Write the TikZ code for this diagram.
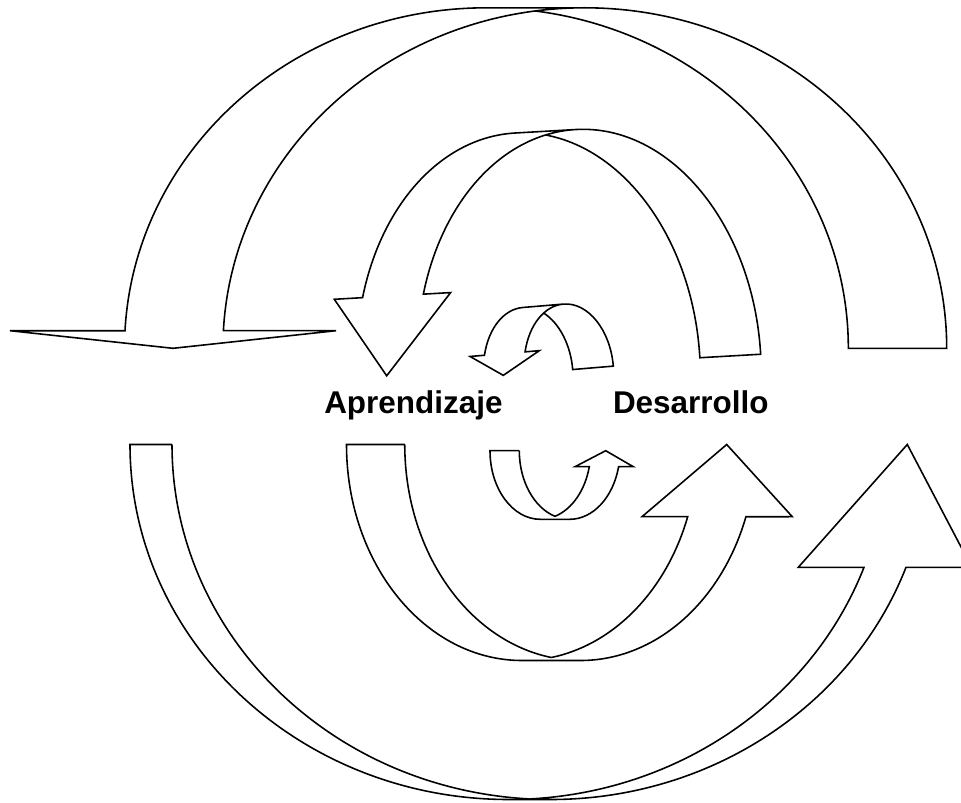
\documentclass[tikz,border=0pt]{standalone}
\usepackage{fontspec}
\setmainfont{Liberation Sans}
\tikzset{
  band/.style={draw,line width=0.9pt,line join=miter},
  bigword/.style={font=\bfseries\fontsize{17.9}{21}\selectfont,inner sep=0pt,anchor=base}
}
\begin{document}
\begin{tikzpicture}[x=0.02cm,y=-0.02cm]
            \useasboundingbox (0,0) rectangle (961,802);

            % big arrow, top
            \draw[band] (535.6,11.0) arc (-82.19:0:361.9 and 340.5) -- (946.7,348.3)
                arc (0:-90:361.9 and 340.5) -- (486.4,7.8) arc (-90:-177.04:361.9 and 340.5)
                -- (10,330.7) -- (173,348.3) -- (336,330.7) -- (223.4,330.7)
                arc (-177.04:-90:361.9 and 340.5);

            \begin{scope}[shift={(560,365.8)},rotate=3.3]
            \draw[band] (-1.17,-231.28) arc (-79.79:0:171.7 and 235) -- (201,0)
                arc (0:-90:171.7 and 235) -- (-31.6,-235) arc (-90:-160.25:171.7 and 235)
                -- (-221.5,-79.4) -- (-173.6,0) -- (-105,-79.4) -- (-132.3,-79.4)
                arc (-160.25:-90:171.7 and 235);
            \end{scope}

            \begin{scope}[shift={(545.6,371.8)},rotate=4.8]
            \draw[band] (2.97,-58.71) arc (-62.82:0:44.6 and 66) -- (67.95,0)
                arc (0:-90:44.6 and 66) -- (-17.4,-66) arc (-90:-160.9:44.6 and 66)
                -- (-74,-21.6) -- (-42.45,0) -- (-4.5,-21.6) -- (-18.79,-21.6)
                arc (-160.9:-90:44.6 and 66);
            \end{scope}

            % arrows, bottom
            \draw[band] (172,444.5) -- (130,444.5) arc (180:90:378.7 and 355) -- (550.7,799.5)
                arc (90:20.24:378.7 and 355) -- (971.7,567.3) -- (907.3,444.5) -- (798.3,567.3)
                -- (864.0,567.3) arc (20.24:86.82:378.7 and 355);
            \draw[band] (172,444.5) arc (180:93.18:378.7 and 355);

            \draw[band] (404.75,444.5) -- (346.5,444.5) arc (180:90:175.65 and 216) -- (580.4,660.5)
                arc (90:19.53:175.65 and 216) -- (792.3,516.7) -- (726.7,444.5) -- (642,516.7)
                -- (687.7,516.7) arc (19.53:80.46:175.65 and 216);
            \draw[band] (404.75,444.5) arc (180:99.54:175.65 and 216);

            \draw[band] (519.3,450.7) -- (490,450.7) arc (180:90:50.34 and 68.6) -- (569.64,519.3)
                arc (90:13.49:50.34 and 68.6) -- (633.3,466.7) -- (605.7,450.7) -- (575,466.7)
                -- (589.3,466.7) arc (13.49:73.08:50.34 and 68.6);
            \draw[band] (519.3,450.7) arc (180:106.92:50.34 and 68.6);

            \node[bigword] (apr) at (413.4,413.3) {Aprendizaje};
            \node[bigword] (des) at (690.8,413.3) {Desarrollo};
\end{tikzpicture}
\end{document}
